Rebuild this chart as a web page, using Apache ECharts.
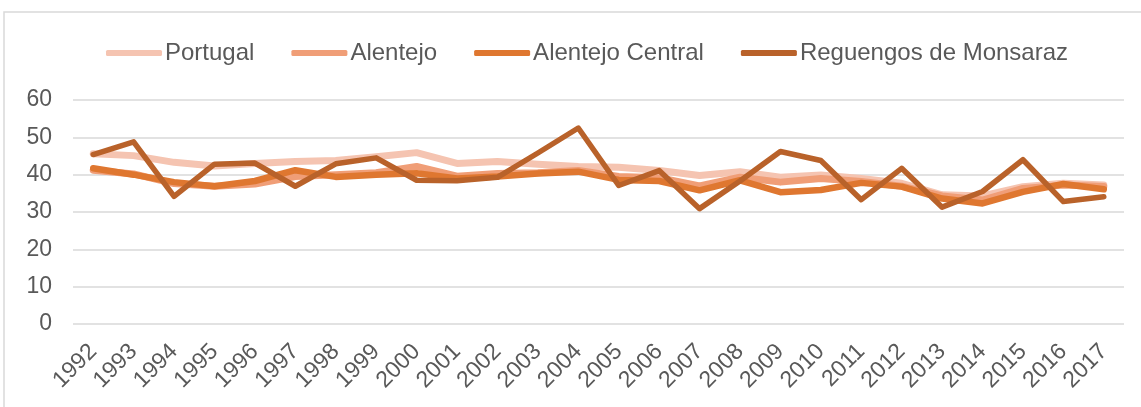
<!DOCTYPE html>
<html>
<head>
<meta charset="utf-8">
<script src="https://cdn.jsdelivr.net/npm/echarts@6/dist/echarts.min.js"></script>
<style>
  html, body { margin: 0; padding: 0; background: #ffffff; }
  #chart { width: 1141px; height: 407px; }
</style>
</head>
<body>
<div id="chart"></div>
<script>
  // anos
  var years = ['1992', '1993', '1994', '1995', '1996', '1997', '1998', '1999', '2000',
    '2001', '2002', '2003', '2004', '2005', '2006', '2007', '2008', '2009', '2010',
    '2011', '2012', '2013', '2014', '2015', '2016', '2017'];

  var portugal = [45.6, 45.1, 43.3, 42.3, 43.0, 43.5, 43.8, 44.8, 45.9,
    43.0, 43.5, 42.8, 42.2, 42.0, 41.1, 39.8, 40.8, 39.3, 39.9,
    39.0, 37.7, 34.6, 34.3, 36.8, 37.7, 37.2];
  var alentejo = [41.2, 40.2, 37.6, 36.9, 37.5, 39.5, 40.0, 40.5, 42.2,
    39.6, 40.3, 40.5, 41.1, 39.5, 39.2, 37.0, 39.3, 38.0, 39.0,
    38.2, 36.9, 34.3, 33.2, 36.3, 37.2, 36.8];
  var alentejoCentral = [41.7, 40.0, 38.0, 36.9, 38.3, 41.2, 39.4, 40.0, 40.4,
    39.0, 39.5, 40.3, 40.8, 38.6, 38.3, 35.8, 38.5, 35.3, 35.9,
    37.8, 36.8, 33.6, 32.3, 35.4, 37.5, 36.1];
  var reguengos = [45.4, 48.8, 34.2, 42.8, 43.1, 36.9, 42.9, 44.5, 38.5,
    38.4, 39.3, 45.8, 52.5, 37.1, 41.1, 30.9, 38.3, 46.2, 43.8,
    33.3, 41.7, 31.3, 35.5, 44.0, 32.8, 34.1];

  var names = ['Portugal', 'Alentejo', 'Alentejo Central', 'Reguengos de Monsaraz'];
  var colors = ['#F5C4B1', '#F09E77', '#DF7730', '#B9622A'];
  var widths = [7, 7, 6.5, 5.5];
  var valores = [portugal, alentejo, alentejoCentral, reguengos];

  var fonte = '"Liberation Sans", Arial, sans-serif';

  var series = [];
  for (var i = 0; i < names.length; i++) {
    series.push({
      name: names[i],
      type: 'line',
      data: valores[i],
      symbol: 'none',
      itemStyle: { color: colors[i] },
      lineStyle: { color: colors[i], width: widths[i], join: 'round', cap: 'round' },
      emphasis: { disabled: true },
      z: 2 + i
    });
  }

  var chart = echarts.init(document.getElementById('chart'));
  var option = {
    animation: false,
    backgroundColor: '#ffffff',
    graphic: [{
      type: 'rect',
      shape: { x: 4, y: 12, width: 1200, height: 500 },
      style: { fill: 'none', stroke: '#D9D9D9', lineWidth: 1.5 },
      silent: true
    }],
    legend: {
      left: 101,
      top: 36,
      itemWidth: 56,
      itemHeight: 6,
      itemGap: 37,
      icon: 'roundRect',
      textStyle: { fontFamily: fonte, fontSize: 24, color: '#595959', padding: [0, 0, 0, -2] },
      data: names
    },
    grid: { left: 73, right: 17, top: 100, bottom: 83, containLabel: false },
    xAxis: {
      type: 'category',
      data: years,
      boundaryGap: true,
      axisLine: { show: false },
      axisTick: { show: false },
      axisLabel: {
        rotate: 45,
        margin: 24,
        interval: 0,
        fontFamily: fonte,
        fontSize: 23,
        color: '#595959'
      }
    },
    yAxis: {
      type: 'value',
      min: 0,
      max: 60,
      interval: 10,
      axisLine: { show: false },
      axisTick: { show: false },
      axisLabel: { margin: 21, fontFamily: fonte, fontSize: 23, color: '#595959' },
      splitLine: { lineStyle: { color: '#D9D9D9', width: 1.5 } }
    },
    series: series
  };
  chart.setOption(option);
</script>
</body>
</html>
